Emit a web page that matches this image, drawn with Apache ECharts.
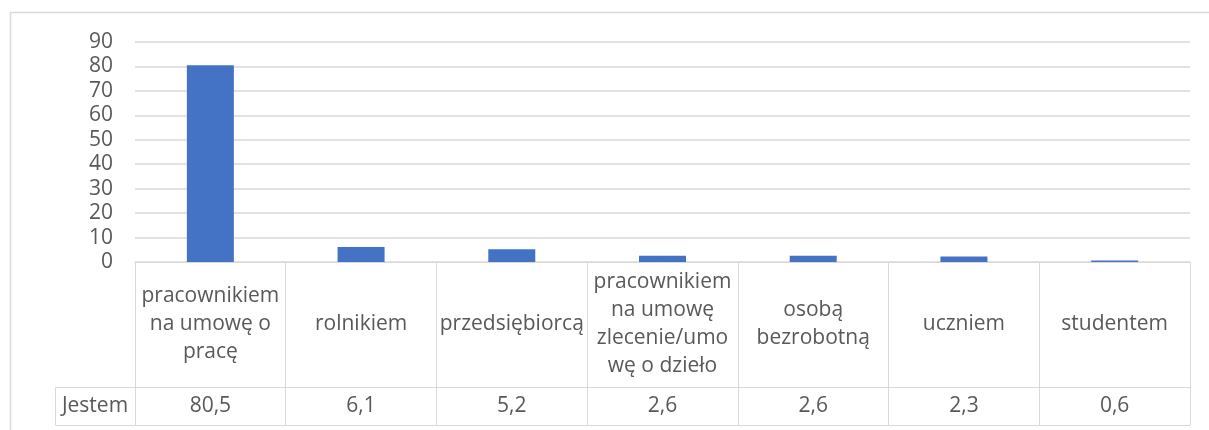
<!DOCTYPE html>
<html>
<head>
<meta charset="utf-8">
<script src="https://cdn.jsdelivr.net/npm/echarts@6/dist/echarts.min.js"></script>
<style>
  html, body { margin: 0; padding: 0; background: #fff; }
  #chart { width: 1209px; height: 430px; }
</style>
</head>
<body>
<div id="chart"></div>
<script>
// dane z wykresu
const seriesName = 'Jestem';
const categories = [
  'pracownikiem\nna umowę o\npracę',
  'rolnikiem',
  'przedsiębiorcą',
  'pracownikiem\nna umowę\nzlecenie/umo\nwę o dzieło',
  'osobą\nbezrobotną',
  'uczniem',
  'studentem'
];
const values = [80.5, 6.1, 5.2, 2.6, 2.6, 2.3, 0.6];
const yTicks = [0, 10, 20, 30, 40, 50, 60, 70, 80, 90];

const gray = '#d9d9d9';
const textColor = '#595959';
const font = '"Open Sans", sans-serif';
const fs = 21;

let myChart = echarts.init(document.getElementById('chart'));
let option = {
  animation: false,
  textStyle: { fontFamily: font },
  grid: { left: 135, right: 19, top: 42, bottom: 168 },
  xAxis: [
    {
      type: 'category',
      data: categories,
      axisLine: { lineStyle: { color: gray } },
      axisTick: { show: true, interval: 0, length: 163, lineStyle: { color: gray } },
      axisLabel: {
        interval: 0, margin: 62, verticalAlign: 'middle',
        fontSize: fs, lineHeight: 28, color: textColor, fontFamily: font
      }
    },
    {
      type: 'category',
      data: categories,
      position: 'bottom',
      offset: 125,
      axisLine: { show: true, lineStyle: { color: gray } },
      axisTick: { show: false },
      axisLabel: {
        interval: 0, margin: 19, verticalAlign: 'middle',
        fontSize: fs, color: textColor, fontFamily: font,
        formatter: (v, i) => String(values[i]).replace('.', ',')
      }
    },
    {
      type: 'category',
      data: categories,
      position: 'bottom',
      offset: 163,
      axisLine: { show: true, lineStyle: { color: gray } },
      axisTick: { show: false },
      axisLabel: { show: false }
    }
  ],
  yAxis: {
    type: 'value',
    min: yTicks[0],
    max: yTicks[yTicks.length - 1],
    interval: 10,
    axisLine: { show: false },
    axisTick: { show: false },
    splitLine: { lineStyle: { color: gray, width: 1.5 } },
    axisLabel: { margin: 22, fontSize: fs, color: textColor, fontFamily: font }
  },
  series: [
    {
      name: seriesName,
      type: 'bar',
      xAxisIndex: 0,
      data: values,
      barWidth: 47,
      itemStyle: { color: '#4472c4' }
    }
  ],
  graphic: [
    {
      type: 'rect',
      shape: { x: 10.5, y: 12.5, width: 1300, height: 600 },
      style: { fill: 'none', stroke: gray, lineWidth: 1.5 },
      silent: true
    },
    {
      type: 'rect',
      shape: { x: 55.5, y: 387.5, width: 80, height: 38 },
      style: { fill: 'none', stroke: gray, lineWidth: 1 },
      silent: true
    },
    {
      type: 'text',
      x: 95, y: 406,
      style: {
        text: seriesName, fill: textColor, font: fs + 'px ' + font,
        textAlign: 'center', textVerticalAlign: 'middle'
      },
      silent: true
    }
  ]
};

option && myChart.setOption(option);
</script>
</body>
</html>
